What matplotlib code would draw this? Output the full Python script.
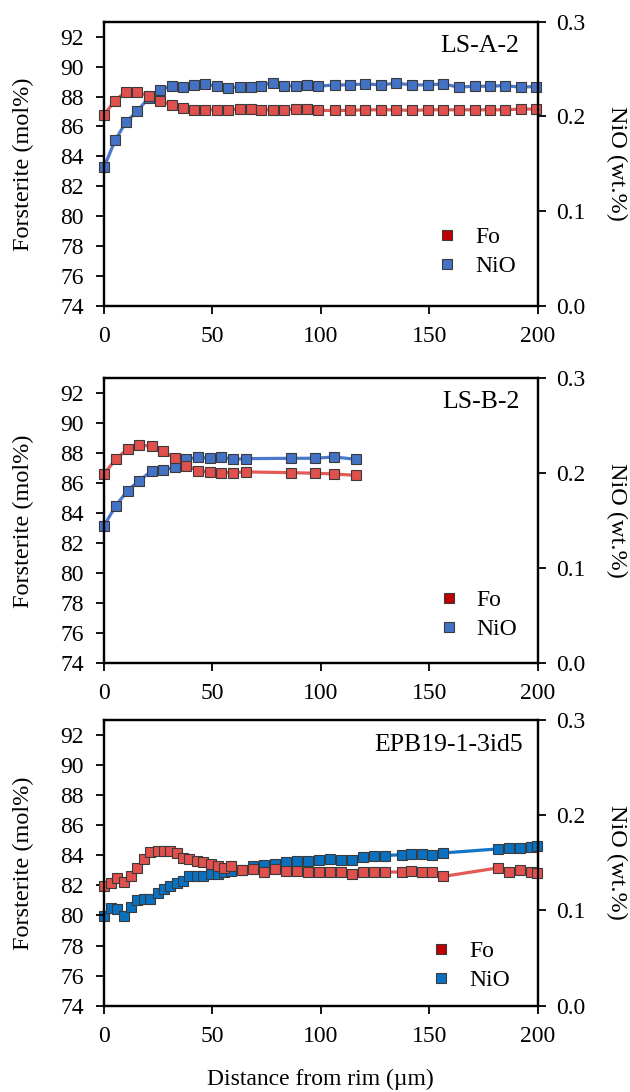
import matplotlib
matplotlib.use("Agg")
import matplotlib.pyplot as plt
from matplotlib.lines import Line2D
from matplotlib.ticker import FormatStrFormatter
from matplotlib import font_manager

serif_names = sorted({f.name for f in font_manager.fontManager.ttflist if 'Serif' in f.name or 'Times' in f.name})
serif_choice = 'Liberation Serif' if 'Liberation Serif' in serif_names else 'DejaVu Serif'
plt.rcParams['font.family'] = 'serif'
plt.rcParams['font.serif'] = [serif_choice, 'DejaVu Serif']
plt.rcParams['font.size'] = 17

# ---------------- data ----------------
# Panel 1: LS-A-2
x1 = [0, 5.1, 10.1, 15.2, 20.6, 25.7, 31.2, 36.4, 41.4, 46.6, 52.0, 57.2, 62.6, 67.8,
      72.6, 77.8, 83.2, 88.4, 93.5, 98.7, 106.5, 113.5, 120.5, 127.6, 134.7, 141.9,
      149.3, 156.5, 163.6, 171.1, 178.0, 184.8, 192.2, 199.2]
fo1 = [86.78, 87.73, 88.33, 88.33, 88.02, 87.73, 87.44, 87.22, 87.11, 87.11, 87.11, 87.11,
       87.16, 87.16, 87.11, 87.11, 87.11, 87.16, 87.16, 87.07, 87.07, 87.07, 87.11, 87.11,
       87.11, 87.07, 87.11, 87.11, 87.11, 87.11, 87.11, 87.11, 87.16, 87.16]
nio1 = [0.1463, 0.1747, 0.1940, 0.2053, 0.2196, 0.2284, 0.2319, 0.2316, 0.2333, 0.2344,
        0.2319, 0.2298, 0.2316, 0.2309, 0.2326, 0.2358, 0.2326, 0.2319, 0.2333, 0.2319,
        0.2333, 0.2333, 0.2344, 0.2333, 0.2351, 0.2333, 0.2333, 0.2344, 0.2309, 0.2319,
        0.2319, 0.2326, 0.2309, 0.2316]

# Panel 2: LS-B-2
x2 = [0, 5.5, 10.9, 16.3, 22.0, 27.1, 32.7, 38.0, 43.2, 48.9, 54.1, 59.6, 65.3,
      86.1, 97.3, 106.2, 116.2]
fo2 = [86.62, 87.62, 88.29, 88.53, 88.49, 88.16, 87.67, 87.18, 86.84, 86.73, 86.71,
       86.71, 86.76, 86.71, 86.67, 86.62, 86.53]
nio2 = [0.1449, 0.1660, 0.1818, 0.1923, 0.2025, 0.2035, 0.2063, 0.2147, 0.2168, 0.2158,
        0.2172, 0.2147, 0.2154, 0.2158, 0.2158, 0.2172, 0.2147]

# Panel 3: EPB19-1-3id5
x3 = [0, 3.4, 6.1, 9.3, 12.3, 15.3, 18.4, 21.1, 24.7, 27.6, 30.5, 33.8, 36.4, 39.3,
      42.7, 45.9, 49.3, 52.4, 55.4, 58.5, 63.8, 68.7, 73.8, 78.9, 84.0, 88.9, 94.0,
      99.2, 104.3, 109.2, 114.3, 119.4, 124.6, 129.6, 137.3, 141.5, 146.6, 151.5,
      156.6, 181.6, 186.9, 191.9, 197.0, 199.6]
fo3 = [81.95, 82.16, 82.49, 82.20, 82.60, 83.16, 83.76, 84.20, 84.27, 84.27, 84.27,
       84.16, 83.83, 83.76, 83.60, 83.53, 83.43, 83.31, 83.16, 83.27, 83.05, 83.09,
       82.89, 83.11, 82.98, 82.98, 82.89, 82.89, 82.89, 82.87, 82.76, 82.87, 82.87,
       82.89, 82.89, 82.93, 82.87, 82.89, 82.60, 83.16, 82.87, 83.00, 82.89, 82.83]
nio3 = [0.0944, 0.1025, 0.1015, 0.0944, 0.1032, 0.1113, 0.1120, 0.1120, 0.1183, 0.1225,
        0.1260, 0.1288, 0.1305, 0.1358, 0.1365, 0.1365, 0.1383, 0.1383, 0.1400, 0.1410,
        0.1425, 0.1463, 0.1481, 0.1492, 0.1505, 0.1516, 0.1516, 0.1526, 0.1541, 0.1526,
        0.1526, 0.1562, 0.1576, 0.1576, 0.1586, 0.1597, 0.1593, 0.1586, 0.1604, 0.1646,
        0.1657, 0.1657, 0.1667, 0.1680]

sample_names = ["LS-A-2", "LS-B-2", "EPB19-1-3id5"]
legend_labels = ["Fo", "NiO"]
fo_ticks = [74, 76, 78, 80, 82, 84, 86, 88, 90, 92]
nio_ticks = [0.0, 0.1, 0.2, 0.3]
x_ticks = [0, 50, 100, 150, 200]

panels = [(x1, fo1, nio1), (x2, fo2, nio2), (x3, fo3, nio3)]

# ---------------- style ----------------
W, H = 630, 1092
fig = plt.figure(figsize=(W / 100, H / 100), dpi=100)

red_face = "#E0504C"
red_line = "#E45A55"
blue_faces = ["#4472C4", "#4472C4", "#0A70C0"]
blue_lines = ["#4A78CC", "#4A78CC", "#1276C8"]
edge = "#3a3a3a"

ax_px = [(21.7, 306.0), (378.3, 663.3), (720.0, 1005.7)]
legend_px = [(445, 236.7, 266.7), (446.7, 600, 630), (439.3, 950.7, 980.7)]
label_px = [(519, 46), (520, 401.7), (523, 745)]
left_px, right_px = 104.0, 537.5
axw = right_px - left_px
FS_TICK = 17
FS_LAB = 17.5
FS_NAME = 18.5

for i, ((xs, fo, nio), (top, bot)) in enumerate(zip(panels, ax_px)):
    axh = bot - top
    ax = fig.add_axes([left_px / W, 1 - bot / H, axw / W, axh / H])
    ax2 = ax.twinx()
    ax.set_zorder(ax2.get_zorder() + 1)
    ax.patch.set_visible(False)

    ax2.plot(xs, nio, color=blue_lines[i], lw=2.3, marker='s', ms=7.8,
             mfc=blue_faces[i], mec=edge, mew=0.8, clip_on=False)
    ax.plot(xs, fo, color=red_line, lw=2.3, marker='s', ms=7.8,
            mfc=red_face, mec=edge, mew=0.8, clip_on=False)

    ax.set_xlim(0, 200)
    ax.set_ylim(74, 93)
    ax2.set_ylim(0, 0.3)
    ax.set_xticks(x_ticks)
    ax.set_yticks(fo_ticks)
    ax2.set_yticks(nio_ticks)
    ax2.yaxis.set_major_formatter(FormatStrFormatter('%.1f'))

    for a in (ax, ax2):
        for s in a.spines.values():
            s.set_linewidth(1.6)
            s.set_color('black')
    ax.tick_params(axis='y', direction='out', length=5.5, width=1.3, labelsize=FS_TICK, pad=9)
    ax.tick_params(axis='x', direction='out', length=5.5, width=1.3, labelsize=FS_TICK, pad=9)
    ax2.tick_params(axis='y', direction='out', length=5.5, width=1.3, labelsize=FS_TICK, pad=8)

    lab = ax.set_ylabel("Forsterite (mol%)", fontsize=FS_LAB)
    lab.set_va('center')
    ax.yaxis.set_label_coords((23 - left_px) / axw, 0.5)
    lab2 = ax2.set_ylabel("NiO (wt.%)", fontsize=FS_LAB, rotation=270)
    lab2.set_va('center')
    ax2.yaxis.set_label_coords((617 - left_px) / axw, 0.5)

    lx, ly = label_px[i]
    ax.text((lx - left_px) / axw, 1 - (ly - top) / axh,
            sample_names[i], transform=ax.transAxes, ha='right', va='center', fontsize=FS_NAME)

    mx, y_fo, y_ni = legend_px[i]
    handles = [Line2D([], [], ls='none', marker='s', ms=7.8, mfc="#C00000", mec=edge, mew=0.8),
               Line2D([], [], ls='none', marker='s', ms=7.8, mfc=blue_faces[i], mec=edge, mew=0.8)]
    cy = (y_fo + y_ni) / 2
    ax.legend(handles, legend_labels, loc='center left', frameon=False,
              bbox_to_anchor=((mx - 10 - left_px) / axw, 1 - (cy - top) / axh),
              borderaxespad=0, borderpad=0, handlelength=1.0, handletextpad=0.7,
              labelspacing=0.33, fontsize=FS_TICK)

    if i == 2:
        xl = ax.set_xlabel("Distance from rim (µm)", fontsize=FS_TICK)
        xl.set_va('center')
        ax.xaxis.set_label_coords(0.5, (bot - 1079) / axh)

fig.savefig("out.png", dpi=100)
